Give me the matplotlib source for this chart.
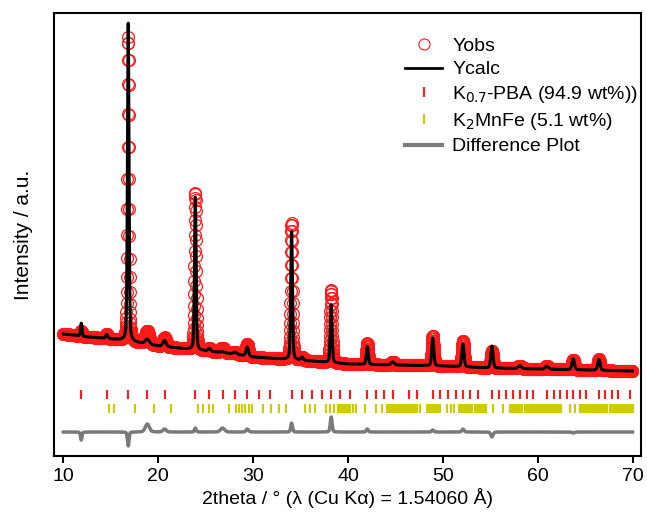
import matplotlib
matplotlib.use("Agg")
import matplotlib.pyplot as plt
from matplotlib.lines import Line2D
import numpy as np

plt.rcParams['font.family'] = ['Liberation Sans', 'DejaVu Sans']
plt.rcParams['font.size'] = 14

# background knots (2theta, intensity a.u.)
bg_x = [10, 11, 12.5, 14, 16, 18, 20, 22, 25, 28, 30, 33, 36, 40, 45, 50, 55, 60, 65, 70]
bg_y = [122, 121, 119, 118, 116, 113, 110, 108, 105, 102, 99, 97, 95, 92, 91, 90, 88, 87, 86, 85]

# reflections seen in the pattern
peak_pos = [11.89, 14.57, 16.84, 18.85, 20.67, 23.91, 25.38, 26.78, 28.11, 29.39, 34.06,
            35.15, 38.23, 42.04, 44.72, 48.94, 52.12, 55.17, 58.11, 60.97, 63.74, 66.45]
calc_h = [13, 4, 318, 5, 6, 153, 3, 1, 2, 9, 128, 3, 58, 18, 3, 28, 23, 22, 3, 3, 11, 11]
obs_h = [5, 4, 304, 13, 9, 157, 3, 5, 2, 12, 137, 3, 73, 21, 3, 30, 26, 17, 3, 3, 10, 11]
fwhm = [0.18, 0.25, 0.19, 0.5, 0.4, 0.2, 0.3, 0.5, 0.4, 0.3, 0.21, 0.3, 0.22, 0.24, 0.4,
        0.25, 0.27, 0.27, 0.4, 0.4, 0.3, 0.3]

# hkl tick positions
pba_ticks = [11.89, 14.57, 16.84, 18.85, 20.67, 23.91, 25.38, 26.78, 28.11, 29.39, 30.62,
             31.80, 34.06, 35.15, 36.20, 37.22, 38.23, 39.21, 40.17, 42.04, 42.95, 43.84,
             44.72, 46.44, 47.29, 48.94, 49.75, 50.55, 51.34, 52.12, 52.89, 53.66, 55.17,
             55.92, 56.65, 57.39, 58.11, 58.84, 59.55, 60.97, 61.67, 62.37, 63.06, 63.74,
             64.43, 65.10, 66.45, 67.12, 67.79, 68.45, 69.77]
k2mnfe_ticks = [14.84, 15.3, 17.55, 19.6, 21.3, 24.2, 24.75, 25.4, 25.8, 27.46, 28.15, 28.5,
                28.85, 29.2, 29.55, 29.9, 31.0, 31.85, 32.76, 33.47, 35.47, 36.0, 36.5, 37.7,
                38.1, 38.5, 38.9, 39.2, 39.4, 39.6, 39.8, 40.0, 40.2, 40.5, 40.8, 41.75, 43.0,
                43.55, 44.1, 44.3, 44.5, 44.7, 44.9, 45.1, 45.3, 45.5, 45.7, 45.9, 46.1, 46.3,
                46.5, 46.7, 46.9, 47.1, 47.3, 47.55, 48.3, 48.5, 48.7, 48.9, 49.1, 49.3, 49.5,
                49.7, 50.4, 50.85, 51.2, 51.7, 51.9, 52.1, 52.3, 52.5, 52.7, 52.9, 53.1, 53.35,
                53.6, 53.8, 54.0, 54.2, 54.4, 54.6, 55.3, 56.3, 57.1, 57.3, 57.5, 57.7, 57.9,
                58.1, 58.35, 58.65, 58.85, 59.05, 59.25, 59.45, 59.65, 59.85, 60.05, 60.25,
                60.5, 60.7, 60.9, 61.1, 61.3, 61.5, 61.7, 61.9, 62.1, 62.3, 62.5, 63.4, 63.9,
                64.5, 64.7, 64.9, 65.1, 65.3, 65.5, 65.7, 65.9, 66.1, 66.3, 66.5, 66.7, 66.9,
                67.1, 67.3, 67.6, 67.8, 68.0, 68.2, 68.4, 68.6, 68.8, 69.0, 69.2, 69.4, 69.6,
                69.8, 70.05]

diff_offset = 24

tt = np.arange(10.0, 70.0, 0.015)


def profile(x, heights):
    y = np.interp(x, bg_x, bg_y)
    for p, h, w in zip(peak_pos, heights, fwhm):
        hw = w / 2
        g = np.exp(-np.log(2) * ((x - p) / hw) ** 2)
        l = 1 / (1 + ((x - p) / hw) ** 2)
        y = y + h * (0.7 * g + 0.3 * l)
    return y


y_calc = profile(tt, calc_h)
y_obs = profile(tt, obs_h)
y_diff = y_obs - y_calc + diff_offset

fig = plt.figure(figsize=(6.47, 5.14), dpi=100)
ax = fig.add_axes([0.0835, 0.1128, 0.907, 0.862])

ax.plot(tt, y_obs, 'o', mfc='none', mec='#ff1a1a', ms=8.5, mew=0.9, zorder=2)
ax.plot(tt, y_calc, color='black', lw=2.2, zorder=3)
ax.vlines(pba_ticks, 57, 66, color='#ff1a1a', lw=1.5)
ax.vlines(k2mnfe_ticks, 43, 52, color='#cccc00', lw=1.5)
ax.plot(tt, y_diff, color='#7a7a7a', lw=2.5)

ax.set_xlim(9.02, 70.87)
ax.set_ylim(0, 443)
ax.set_xticks([10, 20, 30, 40, 50, 60, 70])
ax.set_yticks([])
ax.tick_params(axis='x', direction='out', length=5, width=1.5)
for s in ax.spines.values():
    s.set_linewidth(1.5)

ax.set_xlabel("2theta / ° (λ (Cu Kα) = 1.54060 Å)", fontsize=14, labelpad=2)
ax.set_ylabel("Intensity / a.u.", fontsize=15, labelpad=15)

handles = [
    Line2D([], [], marker='o', ls='none', mfc='none', mec='#ff1a1a', ms=8, mew=0.8),
    Line2D([], [], color='black', lw=2),
    Line2D([], [], marker='|', ls='none', color='#ff1a1a', ms=7, mew=1.5),
    Line2D([], [], marker='|', ls='none', color='#cccc00', ms=7, mew=1.5),
    Line2D([], [], color='#7a7a7a', lw=3),
]
labels = ['Yobs', 'Ycalc', 'K$_{0.7}$-PBA (94.9 wt%))', 'K$_2$MnFe (5.1 wt%)', 'Difference Plot']
ax.legend(handles, labels, loc='upper right', bbox_to_anchor=(0.995, 0.945), frameon=False,
          borderaxespad=0, borderpad=0, labelspacing=0.3, handlelength=1.9, handletextpad=0.5,
          fontsize=14)

fig.savefig('out.png', dpi=100)
